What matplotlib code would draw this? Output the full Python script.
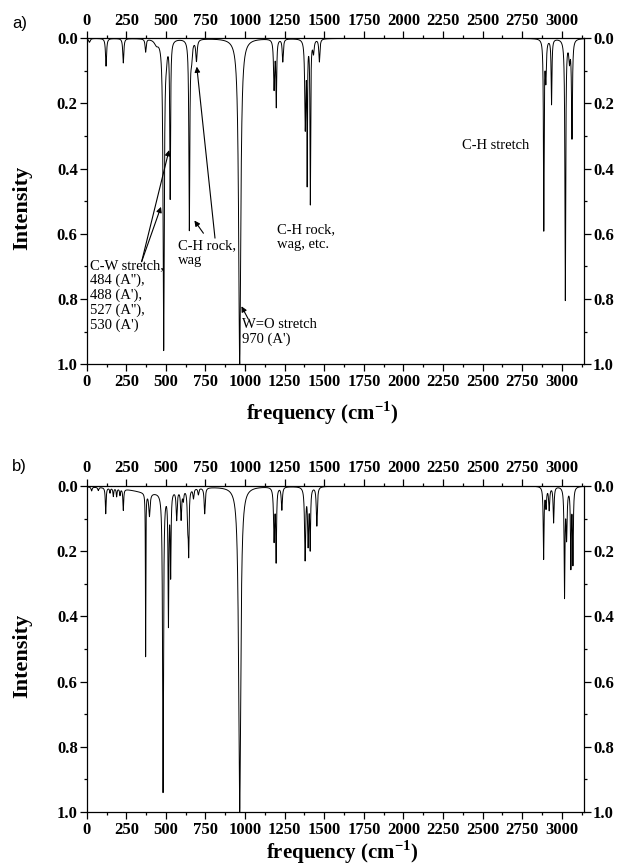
import numpy as np
import matplotlib
matplotlib.use('Agg')
from matplotlib import pyplot as plt
from matplotlib.ticker import MultipleLocator

plt.rcParams['font.family'] = ['Liberation Serif', 'DejaVu Serif']
plt.rcParams['mathtext.fontset'] = 'custom'
plt.rcParams['mathtext.rm'] = 'Liberation Serif'
plt.rcParams['mathtext.bf'] = 'Liberation Serif:bold'

# peak tables: position (cm-1), depth, half width (cm-1)
a_pos = [17, 122, 231, 372, 440, 486, 503, 527, 648, 662, 693, 966,
         1183, 1197, 1238, 1380, 1392, 1412, 1432, 1469,
         2886, 2899, 2935, 3022, 3048, 3064]
a_int = [0.012, 0.085, 0.075, 0.04, 0.015, 0.95, 0.03, 0.48, 0.58, 0.05, 0.065, 1.0,
         0.15, 0.2, 0.07, 0.27, 0.42, 0.5, 0.04, 0.07,
         0.58, 0.12, 0.2, 0.8, 0.06, 0.3]
a_wid = [6, 4, 4, 4, 15, 4.5, 6, 3, 3.5, 6, 5, 8,
         4, 3, 4, 4, 2, 2.5, 5, 4,
         2.5, 4, 3, 3, 5, 3.5]

b_pos = [31, 73, 120, 147, 168, 189, 210, 231, 400, 372, 396,
         482, 516, 530, 568, 596, 610, 638, 644, 674, 705, 745, 966,
         1183, 1196, 1232, 1379, 1398, 1411, 1453,
         2885, 2900, 2920, 2948, 3017, 3030, 3057, 3070]
b_int = [0.012, 0.01, 0.08, 0.015, 0.025, 0.025, 0.02, 0.065, 0.02, 0.5, 0.07,
         0.92, 0.4, 0.25, 0.09, 0.09, 0.03, 0.1, 0.18, 0.03, 0.02, 0.08, 1.0,
         0.16, 0.22, 0.07, 0.22, 0.17, 0.18, 0.12,
         0.22, 0.06, 0.07, 0.11, 0.33, 0.15, 0.24, 0.23]
b_wid = [4, 4, 3, 3, 3, 3, 3, 3, 150, 1.5, 5,
         3.5, 3, 3, 4, 4, 4, 4, 3, 4, 4, 4, 8,
         4, 3, 4, 4, 4, 3, 4,
         3, 4, 4, 3.5, 3, 4, 3, 3]

x_ticks = np.arange(0, 3001, 250)
y_ticks = [0.0, 0.2, 0.4, 0.6, 0.8, 1.0]

freq = np.arange(0, 3140.01, 0.25)


def spectrum(pos, inten, wid):
    s = np.zeros_like(freq)
    for p, h, g in zip(pos, inten, wid):
        s += h * g**2 / ((freq - p)**2 + g**2)
    return s


fig = plt.figure(figsize=(6.18, 8.68), dpi=100)
ax_a = fig.add_axes([0.1403, 0.5803, 0.8047, 0.3756])
ax_b = fig.add_axes([0.1403, 0.0645, 0.8047, 0.3756])

for ax, pos, inten, wid, xl, yl in [(ax_a, a_pos, a_int, a_wid, 0.473, -0.15),
                                    (ax_b, b_pos, b_int, b_wid, 0.514, -0.122)]:
    ax.plot(freq, spectrum(pos, inten, wid), color='k', lw=0.7)
    ax.set_xlim(0, 3140)
    ax.set_ylim(1.0, 0.0)
    ax.set_xticks(x_ticks)
    ax.set_yticks(y_ticks)
    ax.xaxis.set_minor_locator(MultipleLocator(125))
    ax.yaxis.set_minor_locator(MultipleLocator(0.1))
    ax.set_yticklabels(['%.1f' % v for v in y_ticks])
    ax.tick_params(which='both', direction='out', top=True, right=True,
                   labeltop=True, labelright=True, width=0.9)
    ax.tick_params(which='major', length=5)
    ax.tick_params(which='minor', length=2.5)
    ax.tick_params(axis='x', pad=2)
    ax.tick_params(axis='y', pad=1.5)
    for lab in ax.get_xticklabels() + ax.get_yticklabels():
        lab.set_fontweight('bold')
        lab.set_fontsize(12)
    for sp in ax.spines.values():
        sp.set_linewidth(0.9)
    ax.set_ylabel('Intensity', fontsize=16, fontweight='bold', va='center')
    ax.yaxis.set_label_coords(-0.13, 0.48)
    ax.set_xlabel('frequency (cm$^{\\mathbf{-1}}$)', fontsize=15, fontweight='bold', va='center')
    ax.xaxis.set_label_coords(xl, yl)

fig.text(0.0324, 0.9724, 'a)', family='Liberation Sans', fontsize=12, ha='center', va='center')
fig.text(0.0308, 0.4620, 'b)', family='Liberation Sans', fontsize=12, ha='center', va='center')

# annotations on panel a
fs = 10.5
arr = dict(arrowstyle='-|>', color='k', lw=0.8, mutation_scale=8, shrinkA=0, shrinkB=0)
ax_a.text(21, 0.678, "C-W stretch,\n484 (A''),\n488 (A'),\n527 (A''),\n530 (A')",
          fontsize=fs, ha='left', va='top', linespacing=1.15)
ax_a.annotate('', xy=(520, 0.343), xytext=(347, 0.685), arrowprops=arr)
ax_a.annotate('', xy=(469, 0.517), xytext=(347, 0.685), arrowprops=arr)
ax_a.text(575, 0.617, 'C-H rock,\nwag', fontsize=fs, ha='left', va='top', linespacing=1.15)
ax_a.annotate('', xy=(680, 0.559), xytext=(737, 0.598), arrowprops=arr)
ax_a.annotate('', xy=(695, 0.087), xytext=(810, 0.613), arrowprops=arr)
ax_a.text(1200, 0.568, 'C-H rock,\nwag, etc.', fontsize=fs, ha='left', va='top', linespacing=1.15)
ax_a.text(981, 0.857, "W=O stretch\n970 (A')", fontsize=fs, ha='left', va='top', linespacing=1.15)
ax_a.annotate('', xy=(977, 0.822), xytext=(1021, 0.862), arrowprops=arr)
ax_a.text(2369, 0.33, 'C-H stretch', fontsize=fs, ha='left', va='center')

fig.savefig('out.png', dpi=100)
